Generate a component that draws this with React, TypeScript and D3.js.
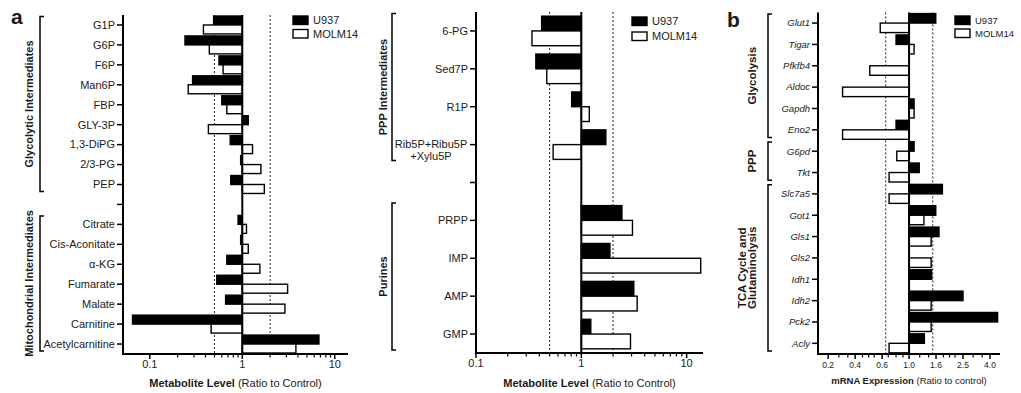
import * as d3 from "d3";

// ---- panel a (left): glycolytic + mitochondrial metabolites
const aCategories = [
  "G1P", "G6P", "F6P", "Man6P", "FBP", "GLY-3P", "1,3-DiPG", "2/3-PG", "PEP", "",
  "Citrate", "Cis-Aconitate", "α-KG", "Fumarate", "Malate", "Carnitine", "Acetylcarnitine",
];
const aU937 = [0.49, 0.24, 0.56, 0.29, 0.6, 1.16, 0.74, 0.96, 0.75, null, 0.9, 0.96, 0.68, 0.53, 0.66, 0.065, 6.74];
const aMOLM14 = [0.38, 0.44, 0.62, 0.26, 0.68, 0.43, 1.29, 1.59, 1.73, null, 1.11, 1.16, 1.55, 3.09, 2.89, 0.46, 3.8];

// ---- panel a (middle): PPP + purines
const mCategories = ["6-PG", "Sed7P", "R1P", "Rib5P+Ribu5P\n+Xylu5P", "", "PRPP", "IMP", "AMP", "GMP"];
const mU937 = [0.42, 0.37, 0.81, 1.71, null, 2.43, 1.87, 3.15, 1.23];
const mMOLM14 = [0.34, 0.47, 1.19, 0.54, null, 3.06, 13.6, 3.39, 2.93];

// ---- panel b: mRNA
const bGenes = [
  "Glut1", "Tigar", "Pfkfb4", "Aldoc", "Gapdh", "Eno2", "G6pd", "Tkt",
  "Slc7a5", "Got1", "Gls1", "Gls2", "Idh1", "Idh2", "Pck2", "Acly",
];
const bU937 = [1.58, 0.8, 1.0, 1.0, 1.09, 0.8, 1.09, 1.19, 1.77, 1.58, 1.67, 1.0, 1.47, 2.52, 4.56, 1.3];
const bMOLM14 = [0.61, 1.09, 0.51, 0.32, 1.09, 0.32, 0.81, 0.71, 0.71, 1.29, 1.46, 1.46, 1.0, 1.46, 1.46, 0.71];

const metTicks = [0.1, 1, 10];
const metMinor = [0.2, 0.3, 0.4, 0.5, 0.6, 0.7, 0.8, 0.9, 2, 3, 4, 5, 6, 7, 8, 9];
const mrnaTicks = [0.25, 0.397, 0.63, 1, 1.587, 2.52, 4];
const mrnaTickLabels = ["0.2", "0.4", "0.6", "1.0", "1.6", "2.5", "4.0"];
const mrnaMinor = [0.3, 0.35, 0.45, 0.5, 0.55, 0.7, 0.8, 0.9, 1.2, 1.4, 1.8, 2, 2.2, 3, 3.5];

const FONT = "'Liberation Sans', Arial, sans-serif";
const INK = "#1a1a1a";

type Group = { label: string[]; from: number; to: number };
type Cfg = {
  letter?: string;
  letterPos?: [number, number];
  cats: string[];
  u937: (number | null)[];
  molm: (number | null)[];
  groups: Group[];
  xDomain: [number, number];
  xRange: [number, number];
  yRange: [number, number];
  barFrac: number;
  refs: number[];
  ticks: number[];
  tickLabels: string[];
  minor: number[];
  labelSize: number;
  italic?: boolean;
  tickSize: number;
  bracketX: number;
  groupLabelDx: number;
  groupSize: number;
  legend: [number, number, number];
  legendSize: number;
  title: [string, string];
  titleSize: number;
  titleY: number;
};

function Panel({ c }: { c: Cfg }) {
  const y = d3
    .scaleBand<string>()
    .domain(c.cats.map((_, i) => String(i)))
    .range(c.yRange);
  const x = d3.scaleLog().domain(c.xDomain).range(c.xRange);
  const bw = y.bandwidth();
  const bh = bw * c.barFrac;
  const x1 = x(1);
  const [xl, xr] = c.xRange;
  const [yt, yb] = c.yRange;

  const bar = (v: number | null, top: number, black: boolean, key: string) => {
    if (v == null || v === 1) return null;
    const xv = x(v);
    return (
      <rect
        key={key}
        x={Math.min(x1, xv)}
        y={top}
        width={Math.abs(xv - x1)}
        height={bh}
        fill={black ? "#000" : "#fff"}
        stroke="#000"
        strokeWidth={1.4}
      />
    );
  };

  return (
    <g fontFamily={FONT} fill={INK}>
      {c.letter && (
        <text x={c.letterPos![0]} y={c.letterPos![1]} fontSize={21} fontWeight="bold">
          {c.letter}
        </text>
      )}
      {/* reference lines */}
      {c.refs.map((r) => (
        <line
          key={r}
          x1={x(r)}
          x2={x(r)}
          y1={yt}
          y2={yb}
          stroke="#222"
          strokeWidth={1}
          strokeDasharray="2 2"
        />
      ))}
      {/* bars */}
      {c.cats.map((cat, i) => {
        const mid = y(String(i))! + bw / 2;
        return (
          <g key={i}>
            {bar(c.u937[i], mid - bh, true, "u")}
            {bar(c.molm[i], mid, false, "m")}
          </g>
        );
      })}
      {/* line at 1 */}
      <line x1={x1} x2={x1} y1={yt} y2={yb} stroke="#000" strokeWidth={2} />
      {/* axes */}
      <line x1={xl} x2={xl} y1={yt} y2={yb + 1} stroke="#000" strokeWidth={2} />
      <line x1={xl - 1} x2={xr} y1={yb} y2={yb} stroke="#000" strokeWidth={2} />
      {c.cats.map((cat, i) => {
        const mid = y(String(i))! + bw / 2;
        const lines = cat.split("\n");
        return (
          <g key={"t" + i}>
            <line x1={xl - 6} x2={xl} y1={mid} y2={mid} stroke="#000" strokeWidth={1.5} />
            {lines.length === 1 ? (
              <text
                x={xl - 8}
                y={mid}
                dy="0.35em"
                textAnchor="end"
                fontSize={c.labelSize}
                fontStyle={c.italic ? "italic" : "normal"}
              >
                {cat}
              </text>
            ) : (
              lines.map((ln, j) => (
                <text
                  key={j}
                  x={xl - 8 - 37}
                  y={mid + j * 12}
                  dy="0.35em"
                  textAnchor="middle"
                  fontSize={c.labelSize}
                >
                  {ln}
                </text>
              ))
            )}
          </g>
        );
      })}
      {/* x ticks */}
      {c.minor.map((t) => (
        <line key={"mn" + t} x1={x(t)} x2={x(t)} y1={yb} y2={yb + 3.5} stroke="#000" strokeWidth={1.2} />
      ))}
      {c.ticks.map((t, i) => (
        <g key={"mj" + t}>
          <line x1={x(t)} x2={x(t)} y1={yb} y2={yb + 5} stroke="#000" strokeWidth={1.5} />
          <text x={x(t)} y={yb + 14} textAnchor="middle" fontSize={c.tickSize}>
            {c.tickLabels[i]}
          </text>
        </g>
      ))}
      <text x={(xl + xr) / 2} y={c.titleY} textAnchor="middle" fontSize={c.titleSize}>
        <tspan fontWeight="bold">{c.title[0]}</tspan>
        <tspan> {c.title[1]}</tspan>
      </text>
      {/* group brackets */}
      {c.groups.map((g) => {
        const top = y(String(g.from))! + 1.5;
        const bot = y(String(g.to))! + bw - 3;
        const cy = (top + bot) / 2;
        const bx = c.bracketX;
        return (
          <g key={g.label.join(" ")}>
            <path
              d={`M${bx + 4},${top}H${bx}V${bot}H${bx + 4}`}
              fill="none"
              stroke="#000"
              strokeWidth={1.5}
            />
            {g.label.map((ln, j) => {
              const lx = bx + c.groupLabelDx - (g.label.length - 1 - j) * 10.5;
              return (
                <text
                  key={j}
                  transform={`translate(${lx},${cy}) rotate(-90)`}
                  dy="0.35em"
                  textAnchor="middle"
                  fontSize={c.groupSize}
                  fontWeight="bold"
                >
                  {ln}
                </text>
              );
            })}
          </g>
        );
      })}
      {/* legend */}
      {["U937", "MOLM14"].map((name, i) => {
        const [lx, ly, step] = c.legend;
        return (
          <g key={name}>
            <rect
              x={lx}
              y={ly + i * step}
              width={15}
              height={8.5}
              fill={i === 0 ? "#000" : "#fff"}
              stroke="#000"
              strokeWidth={1.4}
            />
            <text x={lx + 20} y={ly + i * step + 4.5} dy="0.35em" fontSize={c.legendSize}>
              {name}
            </text>
          </g>
        );
      })}
    </g>
  );
}

const panelA: Cfg = {
  letter: "a",
  letterPos: [11, 24],
  cats: aCategories,
  u937: aU937,
  molm: aMOLM14,
  groups: [
    { label: ["Glycolytic Intermediates"], from: 0, to: 8 },
    { label: ["Mitochondrial Intermediates"], from: 10, to: 16 },
  ],
  xDomain: [0.0513, 13.9],
  xRange: [123, 348],
  yRange: [15, 354],
  barFrac: 0.45,
  refs: [0.5, 2],
  ticks: metTicks,
  tickLabels: ["0.1", "1", "10"],
  minor: metMinor,
  labelSize: 11,
  tickSize: 11,
  bracketX: 40,
  groupLabelDx: -11,
  groupSize: 11,
  legend: [293, 16, 13.5],
  legendSize: 11,
  title: ["Metabolite Level", "(Ratio to Control)"],
  titleSize: 11,
  titleY: 387,
};

const panelM: Cfg = {
  cats: mCategories,
  u937: mU937,
  molm: mMOLM14,
  groups: [
    { label: ["PPP Intermediates"], from: 0, to: 3 },
    { label: ["Purines"], from: 5, to: 8 },
  ],
  xDomain: [0.1, 14.3],
  xRange: [476, 703],
  yRange: [12, 353],
  barFrac: 0.39,
  refs: [0.5, 2],
  ticks: metTicks,
  tickLabels: ["0.1", "1", "10"],
  minor: metMinor,
  labelSize: 11,
  tickSize: 11,
  bracketX: 392,
  groupLabelDx: -9,
  groupSize: 11,
  legend: [632, 17, 15],
  legendSize: 11,
  title: ["Metabolite Level", "(Ratio to Control)"],
  titleSize: 11,
  titleY: 387,
};

const panelB: Cfg = {
  letter: "b",
  letterPos: [727, 27],
  cats: bGenes,
  u937: bU937,
  molm: bMOLM14,
  groups: [
    { label: ["Glycolysis"], from: 0, to: 5 },
    { label: ["PPP"], from: 6, to: 7 },
    { label: ["TCA Cycle and", "Glutaminolysis"], from: 8, to: 15 },
  ],
  xDomain: [0.21, 4.75],
  xRange: [818, 1000],
  yRange: [12.4, 354],
  barFrac: 0.445,
  refs: [0.67, 1.5],
  ticks: mrnaTicks,
  tickLabels: mrnaTickLabels,
  minor: mrnaMinor,
  labelSize: 9.5,
  italic: true,
  tickSize: 8.5,
  bracketX: 768,
  groupLabelDx: -16,
  groupSize: 11.5,
  legend: [955, 16, 13],
  legendSize: 9.5,
  title: ["mRNA Expression", "(Ratio to control)"],
  titleSize: 9.5,
  titleY: 384,
};

export default function App() {
  return (
    <svg
      width={1021}
      height={393}
      style={{ position: "absolute", left: 0, top: 0, background: "#fff" }}
    >
      <rect width={1021} height={393} fill="#fff" />
      <Panel c={panelA} />
      <Panel c={panelM} />
      <Panel c={panelB} />
    </svg>
  );
}
